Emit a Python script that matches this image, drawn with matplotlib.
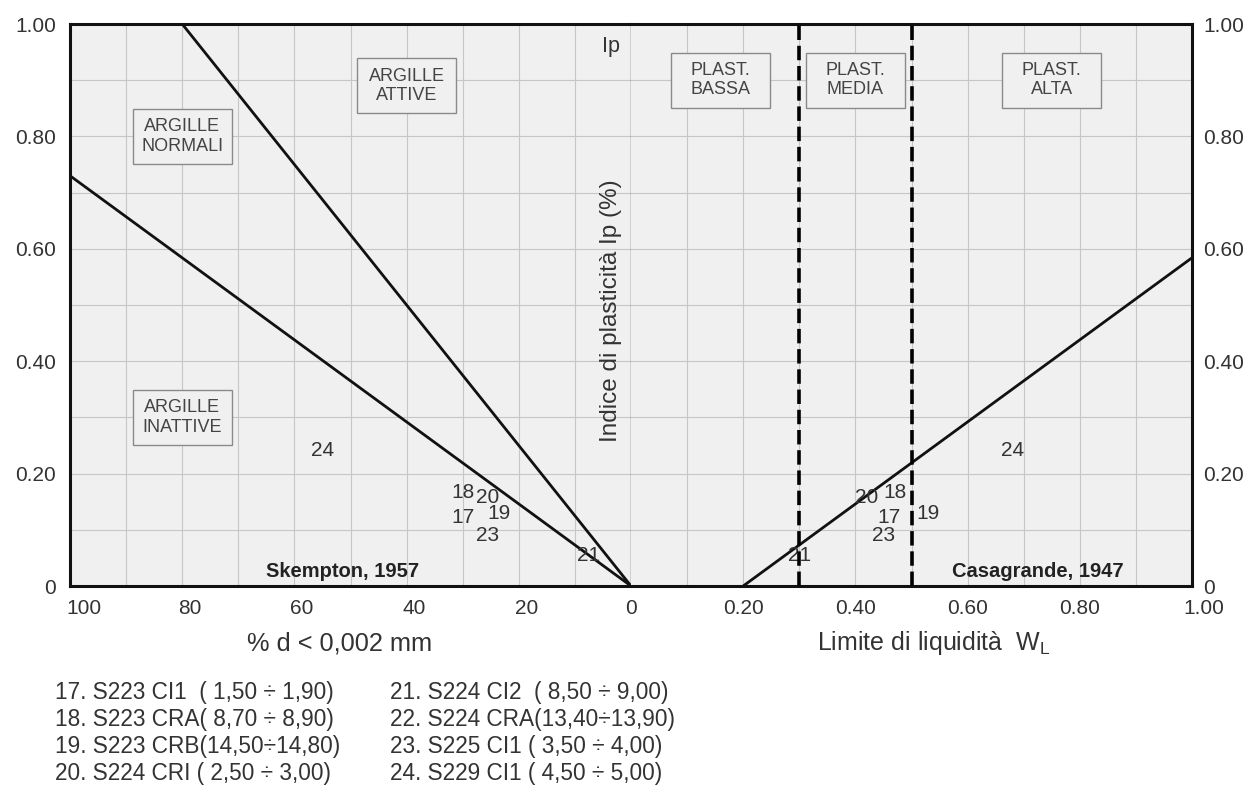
import numpy as np
import matplotlib
matplotlib.use('Agg')
import matplotlib.pyplot as plt
from matplotlib.patches import Rectangle
from matplotlib.transforms import ScaledTranslation

plt.rcParams['font.family'] = ['Liberation Sans', 'DejaVu Sans']

# samples plotted on both charts (clay fraction / liquid limit vs plasticity index)
sample_ids = ['17', '18', '19', '20', '21', '23', '24']
clay_pct = [30.0, 30.0, 23.5, 25.5, 7.5, 25.5, 55.0]
liquid_limit = [0.46, 0.47, 0.53, 0.42, 0.30, 0.45, 0.68]
plasticity = [0.122, 0.166, 0.129, 0.157, 0.054, 0.090, 0.241]

legend_left = ['17. S223 CI1  ( 1,50 ÷ 1,90)',
               '18. S223 CRA( 8,70 ÷ 8,90)',
               '19. S223 CRB(14,50÷14,80)',
               '20. S224 CRI ( 2,50 ÷ 3,00)']
legend_right = ['21. S224 CI2  ( 8,50 ÷ 9,00)',
                '22. S224 CRA(13,40÷13,90)',
                '23. S225 CI1 ( 3,50 ÷ 4,00)',
                '24. S229 CI1 ( 4,50 ÷ 5,00)']

# Skempton activity boundaries and Casagrande A-line
active_ratio = 1.25
normal_ratio = 0.73
a_line_slope = 0.73
a_line_start = 0.20
plast_limits = [0.30, 0.50]

# zone labels: (x, y, text)
skempton_zones = [(80, 0.80, 'ARGILLE\nNORMALI'),
                  (40, 0.89, 'ARGILLE\nATTIVE'),
                  (80, 0.30, 'ARGILLE\nINATTIVE')]
casagrande_zones = [(0.16, 0.90, 'PLAST.\nBASSA'),
                    (0.40, 0.90, 'PLAST.\nMEDIA'),
                    (0.75, 0.90, 'PLAST.\nALTA')]

W, H = 1250, 785
TXT = '#333333'
BG = '#f0f0f0'


def px_rect(x0, y0, x1, y1):
    return [x0 / W, 1 - y1 / H, (x1 - x0) / W, (y1 - y0) / H]


def zone_box(ax, cx, cy, label, w, h=0.098):
    ax.add_patch(Rectangle((cx - w / 2, cy - h / 2), w, h, fc=BG, ec='#8a8a8a',
                           lw=1.0, zorder=3))
    ax.text(cx, cy, label, ha='center', va='center', fontsize=13, color='#444444',
            linespacing=1.2, zorder=4)


def shift_px(fig, dx):
    return ScaledTranslation(dx / fig.dpi, 0, fig.dpi_scale_trans)


fig = plt.figure(figsize=(12.5, 7.85), dpi=100)
axL = fig.add_axes(px_rect(70, 24, 631, 586))
axR = fig.add_axes(px_rect(631, 24, 1192, 586))

for ax in (axL, axR):
    ax.set_facecolor(BG)
    ax.set_ylim(0, 1)
    ax.set_yticks(np.arange(0, 1.01, 0.2))
    ax.set_yticks(np.arange(0.1, 1.0, 0.2), minor=True)
    ax.grid(which='both', color='#c6c6c6', lw=0.8)
    ax.set_axisbelow(True)
    ax.tick_params(which='both', length=0, labelsize=15, colors=TXT)
    ax.tick_params(axis='x', pad=9)
    for side in ('top', 'bottom'):
        ax.spines[side].set_linewidth(2.2)
        ax.spines[side].set_color('#111111')

ylabels = ['0', '0.20', '0.40', '0.60', '0.80', '1.00']

# left chart: Skempton activity
axL.set_xlim(100, 0)
axL.set_xticks(np.arange(0, 101, 20))
axL.set_xticks(np.arange(10, 100, 20), minor=True)
axL.set_xticklabels([str(v) for v in range(0, 101, 20)])
for lab in axL.get_xticklabels():
    if lab.get_text() != '0':
        lab.set_ha('left')
        lab.set_transform(lab.get_transform() + shift_px(fig, -4))
axL.set_yticklabels(ylabels)
axL.tick_params(axis='y', pad=10)
axL.spines['left'].set_linewidth(2.2)
axL.spines['left'].set_color('#111111')
axL.spines['right'].set_linewidth(1.0)
axL.spines['right'].set_color('#555555')

clay_line = np.array([0.0, 100.0])
axL.plot(clay_line, active_ratio * clay_line / 100, color='#111111', lw=2)
axL.plot(clay_line, normal_ratio * clay_line / 100, color='#111111', lw=2)

for cx, cy, label in skempton_zones:
    zone_box(axL, cx, cy, label, 17.6)

axL.text(51.5, 0.025, 'Skempton, 1957', fontsize=14.5, fontweight='bold',
         color='#222222', ha='center', va='center')
axL.text(3.6, 0.96, 'Ip', fontsize=15.5, color=TXT, ha='center', va='center')
axL.text(3.6, 0.49, 'Indice di plasticità Ip (%)', rotation=90, fontsize=17.5,
         color=TXT, ha='center', va='center')

# right chart: Casagrande plasticity
axR.set_xlim(0, 1)
axR.set_xticks(np.arange(0.2, 1.01, 0.2))
axR.set_xticks(np.arange(0.1, 1.0, 0.2), minor=True)
axR.set_xticklabels(['%.2f' % v for v in np.arange(0.2, 1.01, 0.2)])
last = axR.get_xticklabels()[-1]
last.set_transform(last.get_transform() + shift_px(fig, 12))
axR.yaxis.tick_right()
axR.set_yticklabels(ylabels)
axR.tick_params(axis='y', pad=8)
axR.spines['left'].set_visible(False)
axR.spines['right'].set_linewidth(2.2)
axR.spines['right'].set_color('#111111')

wl_line = np.array([a_line_start, 1.0])
axR.plot(wl_line, a_line_slope * (wl_line - a_line_start), color='#111111', lw=2)
for v in plast_limits:
    axR.axvline(v, color='black', lw=2.6, dashes=(4, 1.6), zorder=5)

for cx, cy, label in casagrande_zones:
    zone_box(axR, cx, cy, label, 0.176)

axR.text(0.725, 0.025, 'Casagrande, 1947', fontsize=14.5, fontweight='bold',
         color='#222222', ha='center', va='center')

# sample numbers
for sid, c, wl, ip in zip(sample_ids, clay_pct, liquid_limit, plasticity):
    axL.text(c, ip, sid, fontsize=15, color=TXT, ha='center', va='center', zorder=3)
    axR.text(wl, ip, sid, fontsize=15, color=TXT, ha='center', va='center', zorder=3)

# axis titles
fig.text(340 / W, 1 - 643 / H, '% d < 0,002 mm', fontsize=18.3, color=TXT,
         ha='center', va='center')
fig.text(934 / W, 1 - 643 / H, 'Limite di liquidità  W$_\\mathregular{L}$',
         fontsize=18, color=TXT, ha='center', va='center')

# sample list
for i, (a, b) in enumerate(zip(legend_left, legend_right)):
    y = 1 - (699 + 27 * i) / H
    fig.text(55 / W, y, a, fontsize=16.3, color=TXT, va='baseline')
    fig.text(390 / W, y, b, fontsize=16.3, color=TXT, va='baseline')

fig.savefig('out.png', dpi=100, facecolor='white')
